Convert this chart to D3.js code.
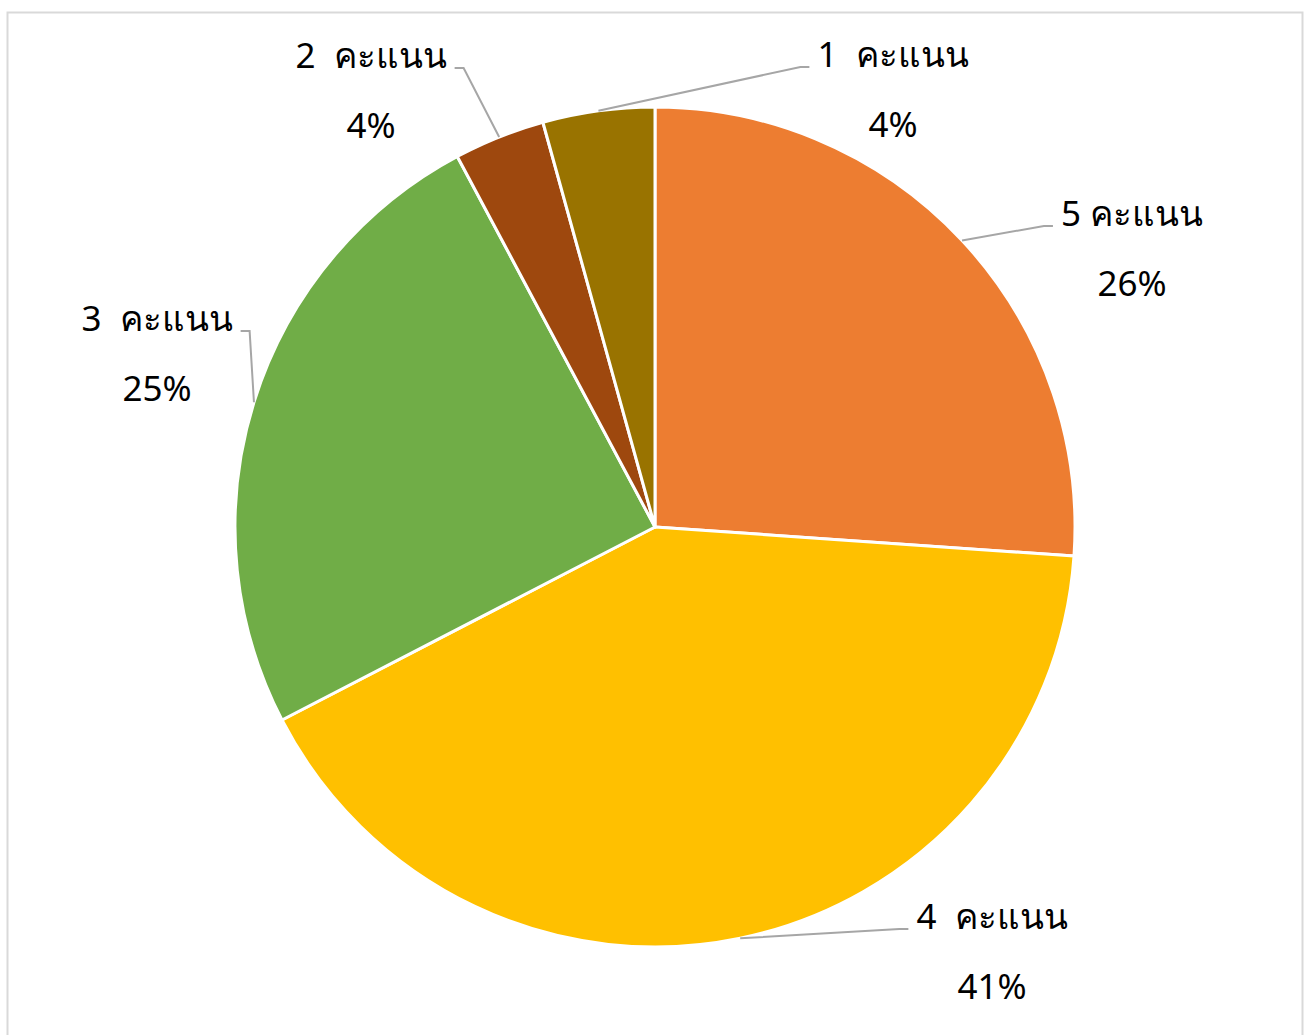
<!DOCTYPE html>
<html>
<head>
<meta charset="utf-8">
<script src="https://cdn.jsdelivr.net/npm/d3@7"></script>
<style>
  body { margin: 0; background: #fff; }
  .lbl { font-family: "Noto Sans", "DejaVu Sans", sans-serif; font-size: 35px; fill: #000; white-space: pre; }
</style>
</head>
<body>
<div id="pie"></div>
<script>
// data, clockwise from 12 o'clock
const categories = ["5 คะแนน", "4  คะแนน", "3  คะแนน", "2  คะแนน", "1  คะแนน"]
const values = [26.1, 41.3, 24.8, 3.5, 4.3]
const colors = ["#ED7D31", "#FFC000", "#70AD47", "#9E480E", "#997300"]

// where each label sits (centre x, first baseline y), moved by hand like in the original
const labelAnchors = [[1132, 226], [992, 929], [157, 331], [371, 68], [893, 67]]

const W = 1309, H = 1035
const cx = 655, cy = 527, radius = 420

const svg = d3.select('#pie').append('svg')
  .attr('width', W)
  .attr('height', H)

// chart frame
svg.append('rect')
  .attr('x', 7.5).attr('y', 12.5)
  .attr('width', 1295).attr('height', 1040)
  .attr('fill', 'none')
  .attr('stroke', '#d9d9d9')
  .attr('stroke-width', 2)

const chart = svg.append('g')
  .attr('transform', `translate(${cx},${cy})`)

const total = d3.sum(values)
const pie = d3.pie().sort(null).value(d => d)
const arcs = pie(values)
const arc = d3.arc().innerRadius(0).outerRadius(radius)

chart.selectAll('path')
  .data(arcs)
  .enter()
    .append('path')
    .attr('d', arc)
    .attr('fill', (d, i) => colors[i])
    .attr('stroke', '#fff')
    .attr('stroke-width', 3)
    .attr('stroke-linejoin', 'round')

// labels
const labels = svg.append('g')
arcs.forEach(function(d, i) {
  const [lx, ly] = labelAnchors[i]
  const t = labels.append('text')
    .attr('class', 'lbl')
    .attr('text-anchor', 'middle')
    .attr('xml:space', 'preserve')
  t.append('tspan').attr('x', lx).attr('y', ly).text(categories[i])
  t.append('tspan').attr('x', lx).attr('y', ly + 70)
    .text(Math.round(values[i] / total * 100) + '%')

  const w = t.select('tspan').node().getComputedTextLength()

  // leader line from slice edge at mid angle
  const mid = (d.startAngle + d.endAngle) / 2
  const sx = cx + Math.sin(mid) * radius
  const sy = cy - Math.cos(mid) * radius
  const side = sx < lx ? -1 : 1
  const ex = lx + side * (w / 2 + 8)
  const elbowX = ex + side * 9
  labels.append('polyline')
    .attr('points', `${sx},${sy} ${elbowX},${ly} ${ex},${ly}`)
    .attr('fill', 'none')
    .attr('stroke', '#a6a6a6')
    .attr('stroke-width', 2)
})
</script>
</body>
</html>
